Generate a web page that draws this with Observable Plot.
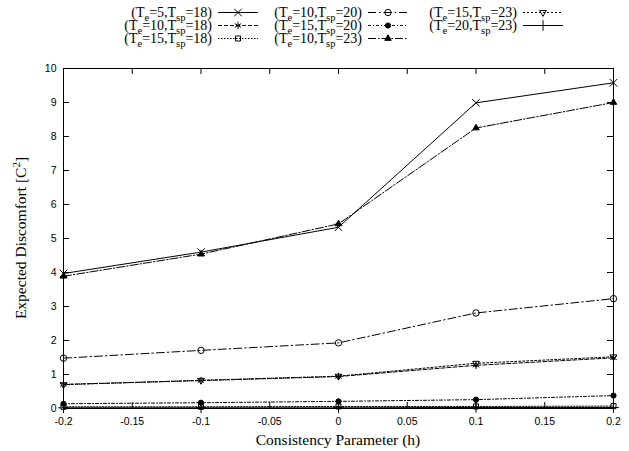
<!DOCTYPE html>
<html><head><meta charset="utf-8">
<script src="https://cdn.jsdelivr.net/npm/d3@7"></script>
<script src="https://cdn.jsdelivr.net/npm/@observablehq/plot@0.6"></script>
<style>body{margin:0;background:#fff} #chart{width:629px;height:451px}</style>
</head><body><div id="chart"></div>
<script>
// ---- data ----
const h = [-0.2, -0.1, 0, 0.1, 0.2];
const te5_tsp18  = [3.97, 4.60, 5.33, 8.99, 9.58];
const te10_tsp18 = [0.71, 0.82, 0.94, 1.27, 1.49];
const te15_tsp18 = [0.05, 0.05, 0.06, 0.06, 0.07];
const te10_tsp20 = [1.48, 1.71, 1.93, 2.81, 3.23];
const te15_tsp20 = [0.14, 0.17, 0.21, 0.26, 0.38];
const te10_tsp23 = [3.89, 4.54, 5.43, 8.25, 9.00];
const te15_tsp23 = [0.70, 0.83, 0.95, 1.33, 1.52];
const te20_tsp23 = [0.02, 0.02, 0.02, 0.03, 0.03];
const teLabels  = ["5", "10", "15", "10", "15", "10", "15", "20"];
const tspLabels = ["18", "18", "18", "20", "20", "23", "23", "23"];
const xTicks = [-0.2, -0.15, -0.1, -0.05, 0, 0.05, 0.1, 0.15, 0.2];
const yTicks = [0, 1, 2, 3, 4, 5, 6, 7, 8, 9, 10];
const xTitle = "Consistency Parameter (h)";
const yTitle = "Expected Discomfort [C";

// ---- styles ----
const values = [te5_tsp18, te10_tsp18, te15_tsp18, te10_tsp20, te15_tsp20, te10_tsp23, te15_tsp23, te20_tsp23];
const styles = [
  {dash: null,        symbol: "times",     fill: "none",  rotate: 0,   r: 3.5},
  {dash: "4,2",       symbol: "asterisk",  fill: "none",  rotate: 0,   r: 3.5},
  {dash: "1.5,1.5",   symbol: "square2",   fill: "none",  rotate: 0,   r: 3.2},
  {dash: "8,3,1.5,3", symbol: "circle",    fill: "none",  rotate: 0,   r: 3.2},
  {dash: "3,2,1,2",   symbol: "circle",    fill: "black", rotate: 0,   r: 2.6},
  {dash: "8,2,1.5,2", symbol: "triangle",  fill: "black", rotate: 0,   r: 2.4},
  {dash: "2,2",       symbol: "triangle2", fill: "none",  rotate: 180, r: 3.2},
  {dash: null,        symbol: "plus",      fill: "none",  rotate: 0,   r: 3.5}
];

const W = 629, H = 451, mL = 63, mR = 16, mT = 68, mB = 43;
const plotW = W - mL - mR, plotH = H - mT - mB;

const marks = [];
values.forEach((vals, k) => {
  const data = h.map((x, i) => ({x, y: vals[i]}));
  const st = styles[k];
  marks.push(Plot.line(data, {x: "x", y: "y", stroke: "black", strokeWidth: 1, strokeDasharray: st.dash || undefined}));
  marks.push(Plot.dot(data, {x: "x", y: "y", symbol: st.symbol, r: st.r, stroke: "black", strokeWidth: 1, fill: st.fill, rotate: st.rotate}));
});
// inward ticks on all four sides
marks.push(Plot.tickX(xTicks, {x: d => d, insetTop: plotH - 6, stroke: "black"}));
marks.push(Plot.tickX(xTicks, {x: d => d, insetBottom: plotH - 6, stroke: "black"}));
marks.push(Plot.tickY(yTicks, {y: d => d, insetRight: plotW - 6, stroke: "black"}));
marks.push(Plot.tickY(yTicks, {y: d => d, insetLeft: plotW - 6, stroke: "black"}));
marks.push(Plot.frame({stroke: "black", strokeWidth: 1}));
marks.push(Plot.axisX(xTicks, {tickSize: 0, tickPadding: 9, tickFormat: d => String(d), label: null, fontSize: 10.5}));
marks.push(Plot.axisY(yTicks, {tickSize: 0, tickPadding: 7, tickFormat: d => String(d), label: null, fontSize: 10.5}));

const chart = Plot.plot({
  width: W, height: H,
  marginLeft: mL, marginRight: mR, marginTop: mT, marginBottom: mB,
  x: {domain: [-0.2, 0.2]},
  y: {domain: [0, 10]},
  style: {fontFamily: "Liberation Sans", background: "white", color: "black"},
  marks
});
document.getElementById("chart").appendChild(chart);

// ---- titles and legend (added to the same svg) ----
const svg = d3.select(chart);
const serif = "Liberation Serif";

svg.append("text").attr("x", mL + plotW / 2).attr("y", 445)
  .attr("text-anchor", "middle").attr("font-family", serif).attr("font-size", 15.5).attr("fill", "black")
  .text(xTitle);

const yt = svg.append("text").attr("transform", `translate(26,${mT + plotH / 2}) rotate(-90)`)
  .attr("text-anchor", "middle").attr("font-family", serif).attr("font-size", 15.5).attr("fill", "black");
yt.append("tspan").text(yTitle);
yt.append("tspan").attr("dy", -6).attr("font-size", 11).text("2");
yt.append("tspan").attr("dy", 6).text("]");

const colRight = [212, 362, 517];
const rowBase = [17, 30, 43];
const symMap = {times: d3.symbolTimes, asterisk: d3.symbolAsterisk, square2: d3.symbolSquare2,
  circle: d3.symbolCircle, triangle: d3.symbolTriangle, triangle2: d3.symbolTriangle2, plus: d3.symbolPlus};
const lg = svg.append("g");
values.forEach((vals, k) => {
  const col = Math.floor(k / 3), row = k % 3;
  const xr = colRight[col], yb = rowBase[row];
  const t = lg.append("text").attr("x", xr).attr("y", yb).attr("text-anchor", "end")
    .attr("font-family", serif).attr("font-size", 14).attr("fill", "black");
  t.append("tspan").text("(T");
  t.append("tspan").attr("dy", 3.5).attr("font-size", 10.5).text("e");
  t.append("tspan").attr("dy", -3.5).text("=" + teLabels[k] + ",T");
  t.append("tspan").attr("dy", 3.5).attr("font-size", 10.5).text("sp");
  t.append("tspan").attr("dy", -3.5).text("=" + tspLabels[k] + ")");
  const st = styles[k];
  const ly = yb - 4.5, x0 = xr + 6, x1 = xr + 46;
  lg.append("line").attr("x1", x0).attr("x2", x1).attr("y1", ly).attr("y2", ly)
    .attr("stroke", "black").attr("stroke-width", 1).attr("stroke-dasharray", st.dash);
  lg.append("path").attr("d", d3.symbol(symMap[st.symbol], Math.PI * st.r * st.r)())
    .attr("transform", `translate(${(x0 + x1) / 2},${ly}) rotate(${st.rotate})`)
    .attr("stroke", "black").attr("stroke-width", 1).attr("fill", st.fill);
});
</script>
</body></html>
